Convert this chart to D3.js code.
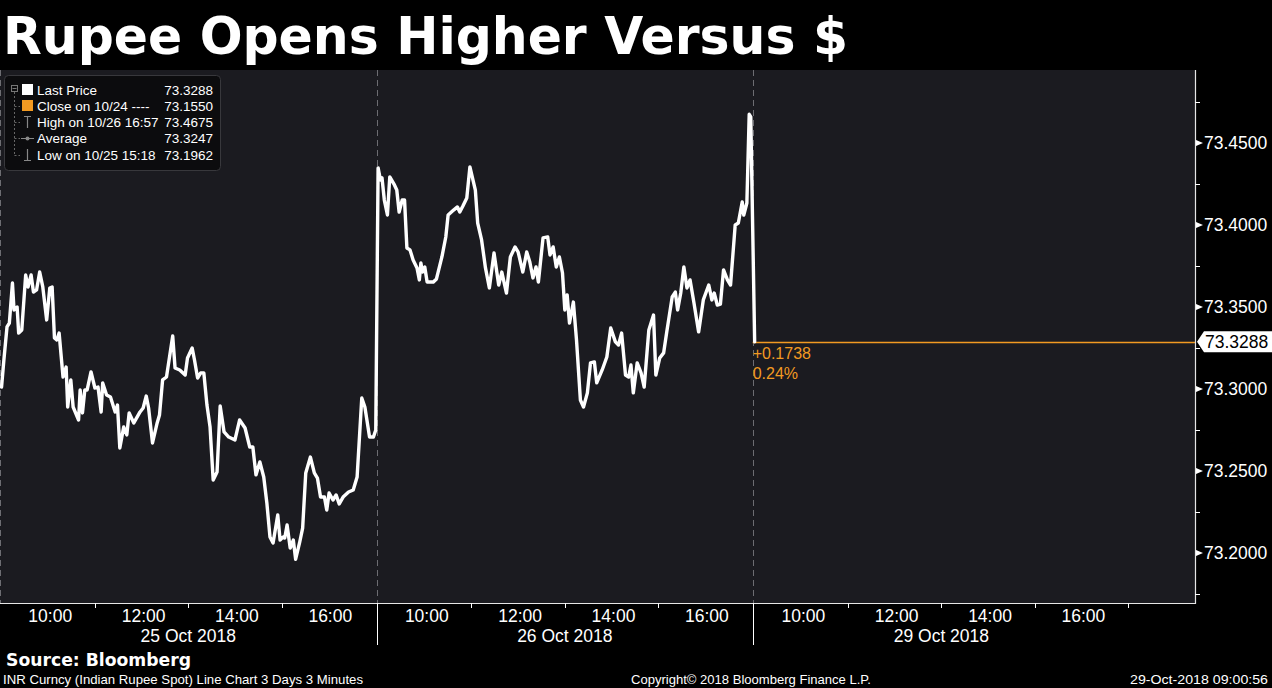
<!DOCTYPE html>
<html>
<head>
<meta charset="utf-8">
<script src="https://cdn.jsdelivr.net/npm/d3@7"></script>
<style>
  html, body { margin: 0; padding: 0; background: #000; }
  svg { display: block; }
</style>
</head>
<body>
<svg id="chart" width="1272" height="688"></svg>
<script>
// ---------------- DATA ----------------
const titleText = "Rupee Opens Higher Versus $";
const dayLabels = ["25 Oct 2018", "26 Oct 2018", "29 Oct 2018"];
const hourLabels = ["10:00", "12:00", "14:00", "16:00"];
const minorHourTicks = ["11:00", "13:00", "15:00"];
const yMajorTicks = [73.20, 73.25, 73.30, 73.35, 73.40, 73.45];
const yMinorTicks = [73.175, 73.225, 73.275, 73.325, 73.375, 73.425, 73.475];

const oct25Times = ["09:00","09:03","09:07","09:10","09:14","09:16","09:20","09:22","09:26","09:31","09:34","09:38","09:41","09:45","09:49","09:53","09:58","10:02","10:05","10:08","10:11","10:14","10:19","10:23","10:25","10:29","10:32","10:39","10:41","10:44","10:47","10:50","10:55","11:00","11:04","11:08","11:10","11:15","11:20","11:26","11:29","11:32","11:37","11:41","11:44","11:50","11:58","12:02","12:06","12:09","12:14","12:20","12:23","12:27","12:32","12:40","12:43","12:49","12:56","12:59","13:05","13:08","13:12","13:16","13:20","13:24","13:28","13:32","13:37","13:41","13:46","13:52","14:00","14:06","14:13","14:19","14:23","14:27","14:32","14:37","14:41","14:45","14:49","14:55","14:58","15:02","15:04","15:07","15:11","15:15","15:18","15:23","15:27","15:31","15:37","15:42","15:46","15:50","15:55","15:58","16:01","16:06","16:10","16:14","16:19","16:26","16:32","16:37","16:43","16:47","16:53","16:58","17:01"];
const oct25Values = [73.3012,73.3177,73.3378,73.3402,73.3646,73.3482,73.3500,73.3341,73.3360,73.3695,73.3622,73.3695,73.3591,73.3604,73.3713,73.3622,73.3421,73.3616,73.3622,73.3311,73.3299,73.3341,73.3073,73.3134,73.2890,73.3055,73.2890,73.2811,73.2994,73.2854,73.2994,73.2994,73.3104,73.3006,73.3012,73.2860,73.3037,73.2963,73.2951,73.2860,73.2902,73.2640,73.2768,73.2720,73.2854,73.2793,73.2860,73.2884,73.2957,73.2884,73.2671,73.2793,73.2841,73.3055,73.3073,73.3323,73.3128,73.3116,73.3085,73.3189,73.3250,73.3177,73.3067,73.3098,73.3098,73.2902,73.2768,73.2445,73.2494,73.2896,73.2738,73.2707,73.2689,73.2811,73.2762,73.2646,73.2646,73.2476,73.2555,73.2463,73.2305,73.2098,73.2061,73.2232,73.2079,73.2098,73.2091,73.2171,73.2030,73.2079,73.1962,73.2061,73.2152,73.2488,73.2585,73.2488,73.2457,73.2341,73.2341,73.2262,73.2366,73.2323,73.2354,73.2299,73.2341,73.2372,73.2384,73.2463,73.2945,73.2890,73.2707,73.2707,73.2750];

const oct26Times = ["09:00","09:03","09:05","09:08","09:12","09:15","09:21","09:24","09:27","09:31","09:34","09:37","09:41","09:45","09:50","09:53","09:55","09:57","10:00","10:03","10:11","10:15","10:22","10:27","10:30","10:37","10:42","10:45","10:49","10:54","10:58","11:05","11:08","11:13","11:18","11:23","11:29","11:35","11:39","11:45","11:50","11:56","12:00","12:06","12:11","12:15","12:19","12:23","12:26","12:32","12:38","12:41","12:45","12:49","12:53","12:57","13:00","13:03","13:06","13:11","13:15","13:20","13:24","13:29","13:33","13:38","13:41","13:48","13:54","13:59","14:05","14:09","14:13","14:18","14:22","14:25","14:28","14:33","14:38","14:42","14:48","14:54","14:57","15:02","15:07","15:11","15:18","15:22","15:25","15:29","15:33","15:37","15:41","15:46","15:52","15:58","16:05","16:09","16:12","16:16","16:20","16:24","16:29","16:33","16:39","16:43","16:48","16:50","16:54","16:57","16:59"];
const oct26Values = [73.4348,73.4274,73.4287,73.4152,73.4061,73.4293,73.4244,73.4213,73.4079,73.4152,73.4152,73.3860,73.3848,73.3787,73.3738,73.3665,73.3768,73.3713,73.3744,73.3652,73.3652,73.3671,73.3805,73.3927,73.4061,73.4091,73.4110,73.4079,73.4116,73.4165,73.4354,73.4213,73.4012,73.3909,73.3738,73.3616,73.3829,73.3634,73.3713,73.3585,73.3805,73.3866,73.3835,73.3713,73.3835,73.3774,73.3677,73.3744,73.3652,73.3921,73.3927,73.3817,73.3866,73.3744,73.3805,73.3707,73.3482,73.3573,73.3402,73.3530,73.3299,73.2933,73.2890,73.2976,73.3159,73.3165,73.3037,73.3116,73.3195,73.3372,73.3287,73.3268,73.3341,73.3085,73.3073,73.3146,73.2976,73.3159,73.3098,73.3012,73.3360,73.3451,73.3085,73.3189,73.3220,73.3348,73.3561,73.3591,73.3482,73.3585,73.3744,73.3616,73.3665,73.3524,73.3348,73.3543,73.3634,73.3543,73.3585,73.3512,73.3518,73.3726,73.3665,73.3634,73.4000,73.4012,73.4140,73.4061,73.4134,73.4675,73.4659];

const oct29Times = ["09:00"];
const oct29Values = [73.3288];

const lastPrice = 73.3288;
const netChange = "+0.1738";
const pctChange = "0.24%";

const legendNames = ["Last Price", "Close on 10/24 ----", "High on 10/26 16:57", "Average", "Low on 10/25 15:18"];
const legendValues = ["73.3288", "73.1550", "73.4675", "73.3247", "73.1962"];

const sourceText = "Source: Bloomberg";
const footLeft = "INR Curncy (Indian Rupee Spot) Line Chart 3 Days 3 Minutes";
const footMid = "Copyright\u00A9 2018 Bloomberg Finance L.P.";
const footRight = "29-Oct-2018 09:00:56";

// ---------------- LAYOUT ----------------
const W = 1272, H = 688;
const plot = { left: 0, right: 1195, top: 70, bottom: 603 };
const ORANGE = "#f29a22";
const FONT = "'Liberation Sans', Arial, sans-serif";

const sessionOrigin = 8 + 58 / 60;      // session axis starts at 08:58
const sessionLen = 8 + 4 / 60;          // 08:58 -> 17:02
const axisHours = 25.6;

const svg = d3.select("#chart");

const x = d3.scaleLinear().domain([0, axisHours]).range([plot.left, plot.right]);
const y = d3.scaleLinear().domain([73.1695, 73.4945]).range([plot.bottom, plot.top]);

function hm(t) { const [h, m] = t.split(":").map(Number); return h + m / 60; }
function pos(dayIdx, t) { return dayIdx * sessionLen + (hm(t) - sessionOrigin); }

// background
svg.append("rect").attr("width", W).attr("height", H).attr("fill", "#000");
svg.append("rect")
  .attr("x", plot.left).attr("y", plot.top)
  .attr("width", plot.right - plot.left).attr("height", plot.bottom - plot.top)
  .attr("fill", "#1b1b20");

// title
svg.append("text")
  .attr("x", 3).attr("y", 54)
  .attr("fill", "#fff")
  .attr("font-family", "'DejaVu Sans', Verdana, sans-serif")
  .attr("font-weight", "bold")
  .attr("font-size", 52)
  .attr("textLength", 845)
  .attr("lengthAdjust", "spacingAndGlyphs")
  .text(titleText);

// day separators (dashed in plot)
const dayStarts = [0, 1, 2].map(d => x(d * sessionLen));
svg.append("g").selectAll("line").data(dayStarts).join("line")
  .attr("x1", d => Math.round(d) + 0.5).attr("x2", d => Math.round(d) + 0.5)
  .attr("y1", plot.top).attr("y2", plot.bottom)
  .attr("stroke", "#6d6d72").attr("stroke-width", 1)
  .attr("stroke-dasharray", "6,4");

// series
const series = [];
oct25Times.forEach((t, i) => series.push({ p: pos(0, t), v: oct25Values[i] }));
oct26Times.forEach((t, i) => series.push({ p: pos(1, t), v: oct26Values[i] }));
oct29Times.forEach((t, i) => series.push({ p: pos(2, t), v: oct29Values[i] }));

const lastX = x(series[series.length - 1].p);

// last price horizontal line
svg.append("line")
  .attr("x1", lastX - 2).attr("x2", plot.right)
  .attr("y1", Math.round(y(lastPrice)) + 0.5).attr("y2", Math.round(y(lastPrice)) + 0.5)
  .attr("stroke", ORANGE).attr("stroke-width", 1.3);

svg.append("path")
  .datum(series)
  .attr("fill", "none")
  .attr("stroke", "#fff")
  .attr("stroke-width", 3.4)
  .attr("stroke-linejoin", "round")
  .attr("stroke-linecap", "round")
  .attr("d", d3.line().x(d => x(d.p)).y(d => y(d.v)));

// change annotations
svg.append("text").attr("x", lastX - 2).attr("y", y(lastPrice) + 17)
  .attr("fill", ORANGE).attr("font-family", FONT).attr("font-size", 16).text(netChange);
svg.append("text").attr("x", lastX - 2).attr("y", y(lastPrice) + 37)
  .attr("fill", ORANGE).attr("font-family", FONT).attr("font-size", 16).text(pctChange);

// axes lines
svg.append("line").attr("x1", plot.left).attr("x2", plot.right + 0.5)
  .attr("y1", plot.bottom + 0.5).attr("y2", plot.bottom + 0.5)
  .attr("stroke", "#e6e6e6").attr("stroke-width", 1.2);
svg.append("line").attr("x1", plot.right + 0.5).attr("x2", plot.right + 0.5)
  .attr("y1", plot.top).attr("y2", plot.bottom + 1)
  .attr("stroke", "#e6e6e6").attr("stroke-width", 1.2);

// right axis ticks
const yAx = svg.append("g");
yAx.selectAll("path.maj").data(yMajorTicks).join("path")
  .attr("d", d => `M${plot.right + 1},${y(d) - 3} L${plot.right + 8},${y(d)} L${plot.right + 1},${y(d) + 3} Z`)
  .attr("fill", "#fff");
yAx.selectAll("line.min").data(yMinorTicks.filter(v => y(v) > plot.top && y(v) < plot.bottom)).join("line")
  .attr("x1", plot.right).attr("x2", plot.right + 5)
  .attr("y1", d => Math.round(y(d)) + 0.5).attr("y2", d => Math.round(y(d)) + 0.5)
  .attr("stroke", "#fff").attr("stroke-width", 1);
yAx.selectAll("text").data(yMajorTicks).join("text")
  .attr("x", plot.right + 9).attr("y", d => y(d) + 6)
  .attr("fill", "#fff").attr("font-family", FONT).attr("font-size", 17.5)
  .text(d => d3.format(".4f")(d));

// last price tag
const ly = y(lastPrice);
svg.append("path")
  .attr("d", `M${plot.right + 2},${ly} L${plot.right + 9},${ly - 10.5} L${W},${ly - 10.5} L${W},${ly + 10.5} L${plot.right + 9},${ly + 10.5} Z`)
  .attr("fill", "#fff");
svg.append("text").attr("x", plot.right + 10).attr("y", ly + 6)
  .attr("fill", "#000").attr("font-family", FONT).attr("font-size", 17.5)
  .text(d3.format(".4f")(lastPrice));

// bottom axis
const xAx = svg.append("g");
[0, 1, 2].forEach(d => {
  xAx.selectAll(null).data(hourLabels).join("text")
    .attr("x", t => x(pos(d, t)) + 2).attr("y", 622)
    .attr("text-anchor", "middle")
    .attr("fill", "#fff").attr("font-family", FONT).attr("font-size", 17.5)
    .text(t => t);
  const minors = d === 2 ? minorHourTicks.concat(["17:00"]) : minorHourTicks;
  xAx.selectAll(null).data(minors).join("line")
    .attr("x1", t => Math.round(x(pos(d, t))) + 0.5).attr("x2", t => Math.round(x(pos(d, t))) + 0.5)
    .attr("y1", plot.bottom).attr("y2", plot.bottom + 5)
    .attr("stroke", "#fff").attr("stroke-width", 1);
  xAx.append("text")
    .attr("x", x(d * sessionLen + sessionLen / 2)).attr("y", 642)
    .attr("text-anchor", "middle")
    .attr("fill", "#fff").attr("font-family", FONT).attr("font-size", 17.5)
    .text(dayLabels[d]);
});
xAx.selectAll("line.sep").data([1, 2]).join("line")
  .attr("x1", d => Math.round(x(d * sessionLen)) + 0.5).attr("x2", d => Math.round(x(d * sessionLen)) + 0.5)
  .attr("y1", plot.bottom).attr("y2", 645)
  .attr("stroke", "#fff").attr("stroke-width", 1);

// legend
const lg = svg.append("g");
lg.append("rect").attr("x", 4.5).attr("y", 75.5).attr("width", 216).attr("height", 95)
  .attr("rx", 4).attr("fill", "#0c0c0e").attr("stroke", "#38383c");
const rowY = [90, 106, 122, 138, 155];
// tree
lg.append("rect").attr("x", 11.5).attr("y", 85.5).attr("width", 6).attr("height", 6)
  .attr("fill", "none").attr("stroke", "#777");
lg.append("line").attr("x1", 12.5).attr("x2", 16.5).attr("y1", 88.5).attr("y2", 88.5).attr("stroke", "#777");
lg.append("line").attr("x1", 14.5).attr("x2", 14.5).attr("y1", 92).attr("y2", 155)
  .attr("stroke", "#666").attr("stroke-dasharray", "2,2");
lg.selectAll("line.br").data(rowY.slice(1)).join("line")
  .attr("x1", 14.5).attr("x2", 20).attr("y1", d => d + 0.5).attr("y2", d => d + 0.5)
  .attr("stroke", "#666").attr("stroke-dasharray", "2,2");
// icons
lg.append("rect").attr("x", 22).attr("y", rowY[0] - 6).attr("width", 11).attr("height", 11).attr("fill", "#fff");
lg.append("rect").attr("x", 22).attr("y", rowY[1] - 6).attr("width", 11).attr("height", 11).attr("fill", ORANGE);
lg.append("path").attr("d", `M24,${rowY[2] - 5.5} H31 M27.5,${rowY[2] - 5.5} V${rowY[2] + 6}`)
  .attr("stroke", "#888").attr("stroke-width", 1.2).attr("fill", "none");
lg.append("path").attr("d", `M21,${rowY[3] + 0.5} H34`).attr("stroke", "#888").attr("stroke-width", 1);
lg.append("circle").attr("cx", 27.5).attr("cy", rowY[3] + 0.5).attr("r", 2).attr("fill", "#888");
lg.append("path").attr("d", `M27.5,${rowY[4] - 6} V${rowY[4] + 5.5} M24,${rowY[4] + 5.5} H31`)
  .attr("stroke", "#888").attr("stroke-width", 1.2).attr("fill", "none");
lg.selectAll("text.nm").data(legendNames).join("text")
  .attr("x", 37).attr("y", (d, i) => rowY[i] + 5)
  .attr("fill", "#fff").attr("font-family", FONT).attr("font-size", 13.5)
  .text(d => d);
lg.selectAll("text.val").data(legendValues).join("text")
  .attr("x", 213).attr("y", (d, i) => rowY[i] + 5)
  .attr("text-anchor", "end")
  .attr("fill", "#fff").attr("font-family", FONT).attr("font-size", 13.5)
  .text(d => d);

// footer
svg.append("text").attr("x", 6).attr("y", 666)
  .attr("fill", "#fff").attr("font-family", "'DejaVu Sans', Verdana, sans-serif")
  .attr("font-weight", "bold").attr("font-size", 17)
  .attr("textLength", 185).attr("lengthAdjust", "spacingAndGlyphs").text(sourceText);
svg.append("text").attr("x", 3).attr("y", 684)
  .attr("fill", "#fff").attr("font-family", FONT).attr("font-size", 13)
  .attr("textLength", 360).attr("lengthAdjust", "spacingAndGlyphs").text(footLeft);
svg.append("text").attr("x", 631).attr("y", 684)
  .attr("fill", "#fff").attr("font-family", FONT).attr("font-size", 13)
  .attr("textLength", 240).attr("lengthAdjust", "spacingAndGlyphs").text(footMid);
svg.append("text").attr("x", 1130).attr("y", 684)
  .attr("fill", "#fff").attr("font-family", FONT).attr("font-size", 13)
  .attr("textLength", 138).attr("lengthAdjust", "spacingAndGlyphs").text(footRight);
</script>
</body>
</html>
